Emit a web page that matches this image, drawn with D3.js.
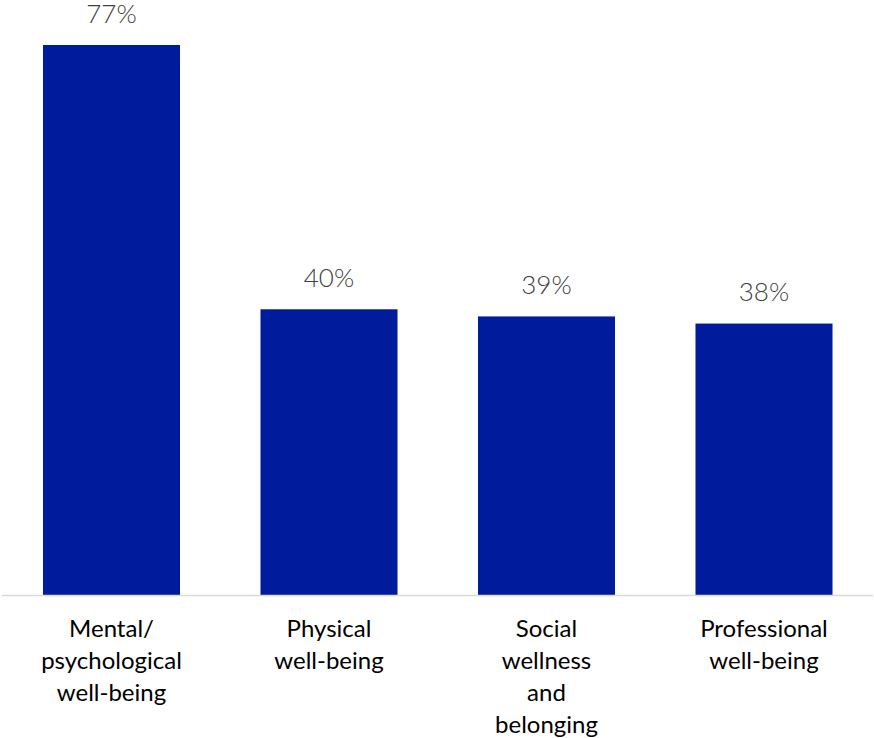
<!DOCTYPE html>
<html>
<head>
<meta charset="utf-8">
<script src="https://cdn.jsdelivr.net/npm/d3@7"></script>
<style>
  html, body { margin: 0; padding: 0; background: #ffffff; }
  svg { display: block; }
</style>
</head>
<body>
<svg id="chart" width="874" height="738"></svg>
<script>
// Share of respondents by well-being dimension
const categories = [
  ["Mental/", "psychological", "well-being"],
  ["Physical", "well-being"],
  ["Social", "wellness", "and", "belonging"],
  ["Professional", "well-being"]
];
const categoryKeys = ["mental", "physical", "social", "professional"];
const values = [0.77, 0.40, 0.39, 0.38];

const width = 874, height = 738;
const baseline = 595;

const svg = d3.select("#chart");

const x = d3.scaleBand()
  .domain(categoryKeys)
  .range([2.75, 872.75])
  .paddingInner(0.37)
  .paddingOuter(0.185);

const y = d3.scaleLinear()
  .domain([0, 0.77])
  .range([baseline, 45]);

const fmt = d3.format(".0%");

// bars
svg.append("g")
  .selectAll("rect")
  .data(values)
  .join("rect")
  .attr("x", (d, i) => x(categoryKeys[i]))
  .attr("y", d => y(d))
  .attr("width", x.bandwidth())
  .attr("height", d => y(0) - y(d))
  .attr("fill", "#001b9c");

// baseline
svg.append("line")
  .attr("x1", 2)
  .attr("x2", 873)
  .attr("y1", baseline + 0.5)
  .attr("y2", baseline + 0.5)
  .attr("stroke", "#d9d9d9")
  .attr("stroke-width", 1.5);

// value labels
svg.append("g")
  .selectAll("text")
  .data(values)
  .join("text")
  .attr("x", (d, i) => x(categoryKeys[i]) + x.bandwidth() / 2)
  .attr("y", d => y(d) - 22.5)
  .attr("text-anchor", "middle")
  .attr("font-family", "Lato, 'Open Sans', sans-serif")
  .attr("font-weight", 300)
  .attr("font-size", 26)
  .attr("fill", "#404040")
  .text(d => fmt(d));

// category labels
const catG = svg.append("g");
categories.forEach((lines, i) => {
  const t = catG.append("text")
    .attr("text-anchor", "middle")
    .attr("font-family", "Lato, 'Open Sans', sans-serif")
    .attr("font-size", 24)
    .attr("fill", "#000000");
  lines.forEach((ln, j) => {
    t.append("tspan")
      .attr("x", x(categoryKeys[i]) + x.bandwidth() / 2)
      .attr("y", 637 + j * 32)
      .text(ln);
  });
});
</script>
</body>
</html>
